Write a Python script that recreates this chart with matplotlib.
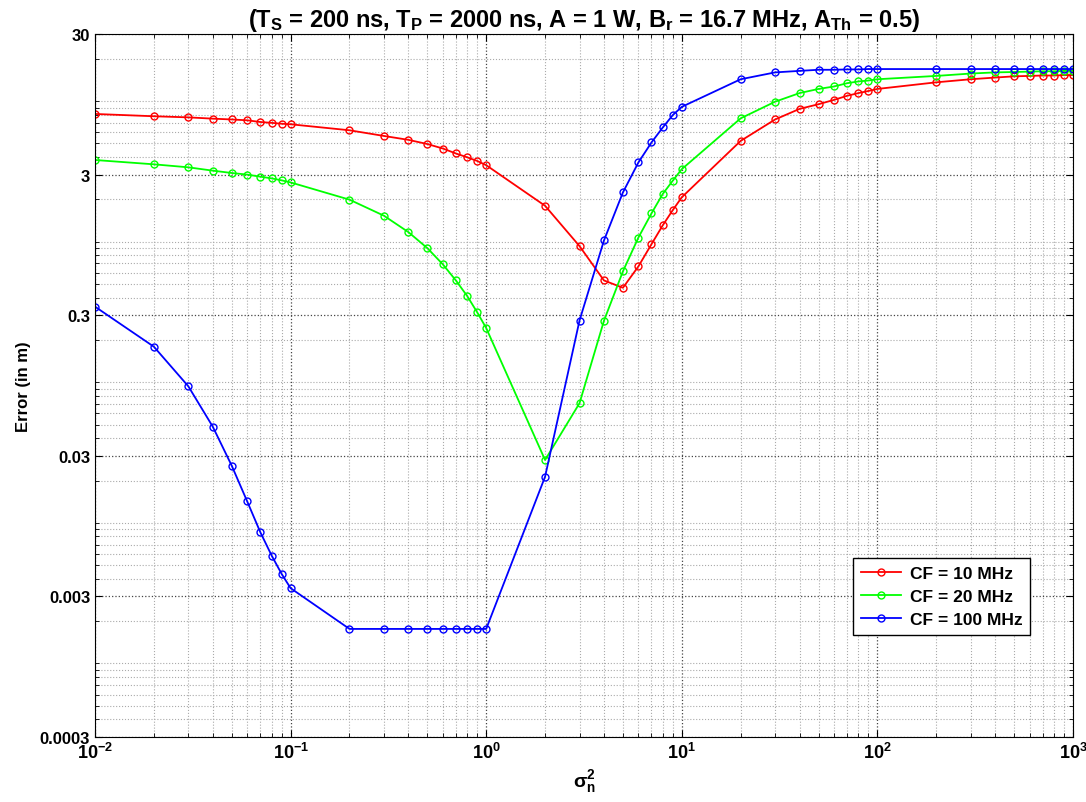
import numpy as np
import matplotlib
matplotlib.use('Agg')
import matplotlib.pyplot as plt
from matplotlib.ticker import LogLocator, NullFormatter

plt.rcParams['font.family'] = ['Liberation Sans', 'DejaVu Sans']
plt.rcParams['mathtext.fontset'] = 'custom'
plt.rcParams['mathtext.rm'] = 'Liberation Sans'
plt.rcParams['mathtext.bf'] = 'Liberation Sans:bold'
plt.rcParams['mathtext.it'] = 'Liberation Sans:italic:bold'

# noise variance values (x axis)
sigma2 = [0.01, 0.02, 0.03, 0.04, 0.05, 0.06, 0.07, 0.08, 0.09, 0.1,
          0.2, 0.3, 0.4, 0.5, 0.6, 0.7, 0.8, 0.9, 1,
          2, 3, 4, 5, 6, 7, 8, 9, 10,
          20, 30, 40, 50, 60, 70, 80, 90, 100,
          200, 300, 400, 500, 600, 700, 800, 900, 1000]

# error (in m)
err_10 = [8.1, 7.8, 7.66, 7.5, 7.4, 7.3, 7.1, 7.0, 6.9, 6.84,
          6.2, 5.65, 5.3, 4.95, 4.6, 4.24, 3.98, 3.75, 3.5,
          1.8, 0.93, 0.53, 0.47, 0.667, 0.96, 1.31, 1.68, 2.07,
          5.21, 7.4, 8.8, 9.5, 10.2, 10.9, 11.4, 11.8, 12.2,
          13.6, 14.3, 14.7, 15.0, 15.1, 15.2, 15.2, 15.3, 15.3]
err_20 = [3.81, 3.55, 3.38, 3.2, 3.08, 3.0, 2.9, 2.82, 2.73, 2.64,
          1.99, 1.53, 1.17, 0.90, 0.69, 0.53, 0.41, 0.314, 0.243,
          0.028, 0.071, 0.274, 0.615, 1.07, 1.59, 2.19, 2.72, 3.28,
          7.54, 9.9, 11.4, 12.2, 12.7, 13.4, 13.8, 14.0, 14.3,
          15.1, 15.7, 16.0, 16.1, 16.2, 16.3, 16.3, 16.4, 16.4]
err_100 = [0.345, 0.179, 0.0936, 0.0483, 0.0255, 0.0142, 0.00858, 0.00585, 0.00433, 0.00343,
           0.00176, 0.00176, 0.00176, 0.00176, 0.00176, 0.00176, 0.00176, 0.00176, 0.00176,
           0.0213, 0.275, 1.02, 2.24, 3.66, 5.08, 6.5, 7.96, 9.1,
           14.3, 16.0, 16.4, 16.7, 16.7, 16.8, 16.8, 16.9, 16.9,
           16.9, 16.9, 16.9, 16.9, 16.9, 16.9, 16.9, 16.9, 16.9]

labels = ['CF = 10 MHz', 'CF = 20 MHz', 'CF = 100 MHz']
colors = ['#ff0000', '#00ff00', '#0000ff']

yticks = [0.0003, 0.003, 0.03, 0.3, 3, 30]
ytick_labels = ['0.0003', '0.003', '0.03', '0.3', '3', '30']
xticks = [1e-2, 1e-1, 1e0, 1e1, 1e2, 1e3]
xtick_labels = [r'$\mathbf{10^{-2}}$', r'$\mathbf{10^{-1}}$', r'$\mathbf{10^{0}}$',
                r'$\mathbf{10^{1}}$', r'$\mathbf{10^{2}}$', r'$\mathbf{10^{3}}$']

fig = plt.figure(figsize=(10.86, 8.03), dpi=100)
ax = fig.add_axes([0.0875, 0.081, 0.9005, 0.8754])

for y, lab, c in zip([err_10, err_20, err_100], labels, colors):
    ax.plot(sigma2, y, color=c, marker='o', markersize=5, markerfacecolor='none',
            markeredgewidth=1.0, linewidth=1.3, label=lab)

ax.set_xscale('log')
ax.set_yscale('log')
ax.set_xlim(1e-2, 1e3)
ax.set_ylim(0.0003, 30)

ax.set_xticks(xticks)
ax.set_xticklabels(xtick_labels, fontsize=13)
ax.set_yticks(yticks)
ax.set_yticklabels(ytick_labels, fontsize=12, fontweight='bold')
ax.xaxis.set_minor_locator(LogLocator(base=10, subs=np.arange(2, 10)))
ax.yaxis.set_minor_locator(LogLocator(base=10, subs=np.arange(1, 10)))
ax.xaxis.set_minor_formatter(NullFormatter())
ax.yaxis.set_minor_formatter(NullFormatter())

ax.tick_params(which='both', direction='in', top=True, right=True)
ax.tick_params(which='major', length=5)
ax.tick_params(which='minor', length=3)

ax.grid(True, which='major', linestyle=':', color='#444444', linewidth=0.9)
ax.grid(True, which='minor', linestyle=':', color='#aaaaaa', linewidth=0.8)

ax.set_title(r'(T$_\mathbf{S}$ = 200 ns, T$_\mathbf{P}$ = 2000 ns, A = 1 W, '
             r'B$_\mathbf{r}$ = 16.7 MHz, A$_\mathbf{Th}$ = 0.5)',
             fontsize=17, fontweight='bold', pad=6)
ax.set_ylabel('Error (in m)', fontsize=12, fontweight='bold', labelpad=6)
ax.set_xlabel(r'$\mathbf{\sigma_n^2}$', fontsize=14)

leg = ax.legend(loc='lower right', bbox_to_anchor=(0.956, 0.145), borderaxespad=0,
                fancybox=False, edgecolor='black', framealpha=1,
                prop={'weight': 'bold', 'size': 12.5},
                handlelength=2.3, borderpad=0.45, labelspacing=0.45, handletextpad=0.5)
leg.get_frame().set_linewidth(1.0)

fig.savefig('out.png', dpi=100)
